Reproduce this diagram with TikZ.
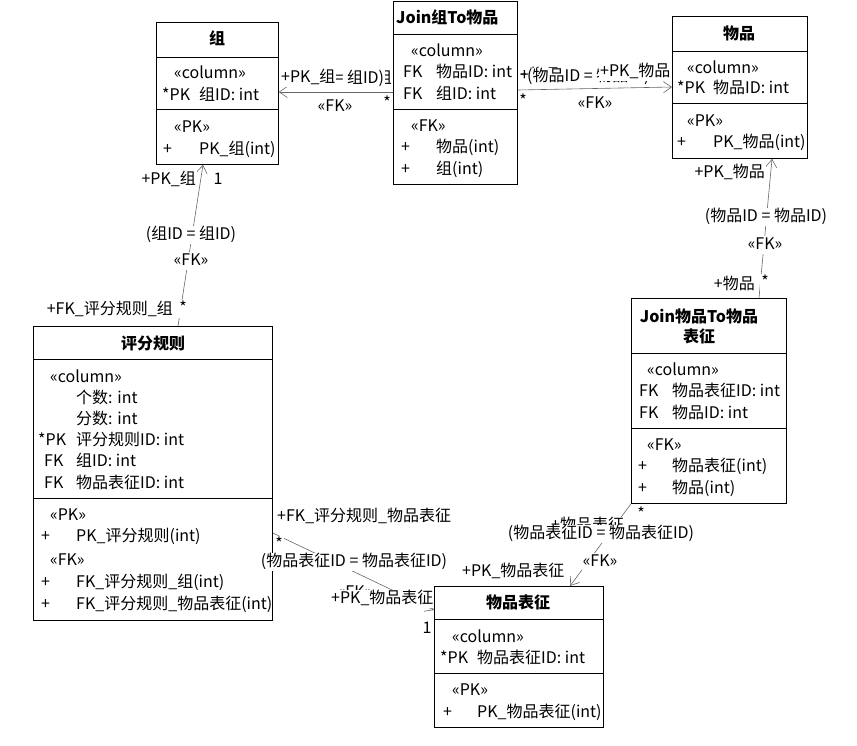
\documentclass[tikz,border=0pt]{standalone}
\usepackage{fontspec}
\setmainfont{Noto Sans CJK SC}
\usetikzlibrary{arrows.meta,calc}
\pgfdeclarelayer{bg}
\pgfsetlayers{bg,main}
\newcommand\fsz{\fontsize{16}{20}\selectfont}
\newcommand\hdiv[2]{\draw[divl] ($(#1.north west)+(0,#2)$) -- ($(#1.north east)+(0,#2)$);}
\tikzset{
  box/.style={draw=black, fill=white, line width=0.8pt, anchor=north west, inner sep=0pt},
  divl/.style={draw=black, line width=0.8pt},
  tx/.style={anchor=west, inner sep=0pt, font=\fsz, text height=12pt, text depth=4pt},
  ttl/.style={anchor=center, inner sep=0pt, font=\fsz\bfseries, text height=12pt, text depth=4pt},
  ttlw/.style={anchor=west, inner sep=0pt, font=\fsz\bfseries, text height=12pt, text depth=4pt},
  lab/.style={fill=white, inner sep=1pt, font=\fsz, text height=12pt, text depth=4pt},
  conn/.style={draw=black!60, line width=0.6pt},
  arr/.style={conn, -{Straight Barb[length=8pt,width=11pt,line width=0.6pt]}},
}
\begin{document}
\begin{tikzpicture}[x=1pt,y=-1pt]
\useasboundingbox (0,0) rectangle (857,745);
% ---------- boxes ----------
\node[box, minimum width=122pt, minimum height=142pt] (zu) at (156,22) {};
\node[box, minimum width=124pt, minimum height=183pt] (join) at (393,1) {};
\node[box, minimum width=135pt, minimum height=142pt] (wp) at (672,16) {};
\node[box, minimum width=239pt, minimum height=294pt] (pf) at (33,326) {};
\node[box, minimum width=155pt, minimum height=205pt] (jw) at (631,298) {};
\node[box, minimum width=169pt, minimum height=141pt] (bz) at (434,586) {};
\hdiv{zu}{35}\hdiv{zu}{87}
\hdiv{join}{33}\hdiv{join}{108}
\hdiv{wp}{35}\hdiv{wp}{87}
\hdiv{pf}{33}\hdiv{pf}{172}
\hdiv{jw}{55}\hdiv{jw}{130}
\hdiv{bz}{33}\hdiv{bz}{87}
% ---------- 组 ----------
\node[ttl] (zu-t) at (217,40) {组};
\node[tx] (zu-c) at (174,74) {«column»};
\node[tx] (zu-a1) at (162,96) {*PK};
\node[tx] (zu-a1n) at (199,96) {组ID: int};
\node[tx] (zu-p) at (174,128) {«PK»};
\node[tx] (zu-o1) at (163,150) {+};
\node[tx] (zu-o1n) at (199,150) {PK\_组(int)};
% ---------- Join组To物品 ----------
\node[ttlw] (jn-t) at (396,19) {Join组To物品};
\node[tx] (jn-c) at (411,52) {«column»};
\node[tx] (jn-a1) at (403,73) {FK};
\node[tx] (jn-a1n) at (436,73) {物品ID: int};
\node[tx] (jn-a2) at (403,95) {FK};
\node[tx] (jn-a2n) at (436,95) {组ID: int};
\node[tx] (jn-f) at (411,127) {«FK»};
\node[tx] (jn-o1) at (401,148) {+};
\node[tx] (jn-o1n) at (436,148) {物品(int)};
\node[tx] (jn-o2) at (401,170) {+};
\node[tx] (jn-o2n) at (436,170) {组(int)};
% ---------- 物品 ----------
\node[ttl] (wp-t) at (739,35) {物品};
\node[tx] (wp-c) at (687,69) {«column»};
\node[tx] (wp-a1) at (677,89) {*PK};
\node[tx] (wp-a1n) at (713,89) {物品ID: int};
\node[tx] (wp-p) at (687,122) {«PK»};
\node[tx] (wp-o1) at (677,143) {+};
\node[tx] (wp-o1n) at (713,143) {PK\_物品(int)};
% ---------- 评分规则 ----------
\node[ttl] (pf-t) at (153,345) {评分规则};
\node[tx] (pf-c) at (50,378) {«column»};
\node[tx] (pf-a1) at (76,399) {个数: int};
\node[tx] (pf-a2) at (76,420) {分数: int};
\node[tx] (pf-a3) at (38,441) {*PK};
\node[tx] (pf-a3n) at (76,441) {评分规则ID: int};
\node[tx] (pf-a4) at (44,462) {FK};
\node[tx] (pf-a4n) at (76,462) {组ID: int};
\node[tx] (pf-a5) at (44,484) {FK};
\node[tx] (pf-a5n) at (76,484) {物品表征ID: int};
\node[tx] (pf-p) at (50,516) {«PK»};
\node[tx] (pf-o1) at (41,537) {+};
\node[tx] (pf-o1n) at (76,537) {PK\_评分规则(int)};
\node[tx] (pf-f) at (50,561) {«FK»};
\node[tx] (pf-o2) at (41,583) {+};
\node[tx] (pf-o2n) at (76,583) {FK\_评分规则\_组(int)};
\node[tx] (pf-o3) at (41,605) {+};
\node[tx] (pf-o3n) at (76,605) {FK\_评分规则\_物品表征(int)};
% ---------- Join物品To物品表征 ----------
\node[ttl] (jw-t1) at (699,318) {Join物品To物品};
\node[ttl] (jw-t2) at (699,338) {表征};
\node[tx] (jw-c) at (647,371) {«column»};
\node[tx] (jw-a1) at (639,392) {FK};
\node[tx] (jw-a1n) at (672,392) {物品表征ID: int};
\node[tx] (jw-a2) at (639,414) {FK};
\node[tx] (jw-a2n) at (672,414) {物品ID: int};
\node[tx] (jw-f) at (647,446) {«FK»};
\node[tx] (jw-o1) at (638,467) {+};
\node[tx] (jw-o1n) at (672,467) {物品表征(int)};
\node[tx] (jw-o2) at (638,489) {+};
\node[tx] (jw-o2n) at (672,489) {物品(int)};
% ---------- 物品表征 ----------
\node[ttl] (bz-t) at (518,604) {物品表征};
\node[tx] (bz-c) at (452,638) {«column»};
\node[tx] (bz-a1) at (440,659) {*PK};
\node[tx] (bz-a1n) at (477,659) {物品表征ID: int};
\node[tx] (bz-p) at (452,691) {«PK»};
\node[tx] (bz-o1) at (443,713) {+};
\node[tx] (bz-o1n) at (477,713) {PK\_物品表征(int)};
% ---------- connector lines (behind boxes) ----------
\begin{pgfonlayer}{bg}
\draw[arr] ($(join.north west)+(0,91)$) -- ($(zu.north east)+(0,70)$);
\draw[arr] ($(join.north east)+(0,89)$) -- ($(wp.north west)+(0,71)$);
\draw[arr] ($(pf.north west)+(145,0)$) -- ($(zu.south west)+(47,0)$);
\draw[arr] ($(jw.north west)+(128,0)$) -- ($(wp.south west)+(100,0)$);
\draw[arr] (jw.south west) -- ($(bz.north west)+(136,0)$);
\draw[arr] ($(pf.north east)+(0,207)$) -- ($(bz.north west)+(0,24)$);
\end{pgfonlayer}
% ---------- connector labels ----------
% Join -> 组
\node[lab, anchor=east] (l1r) at (393,79) {+组};
\node[lab] (l1c) at (339,79) {(组ID = 组ID)};
\node[lab, anchor=west] (l1p) at (280,78) {+PK\_组};
\node[lab] (l1f) at (335,107) {«FK»};
\node[lab] (l1s) at (387,104) {*};
% Join -> 物品
\node[lab, anchor=west] (l2r) at (519,76) {+物品};
\node[lab, anchor=west] (l2c) at (526,77) {(物品ID = 物品ID)};
\node[tx] (l2rp) at (520,76) {+};
\node[lab, anchor=west] (l2p) at (599,72) {+PK\_物品};
\node[lab] (l2f) at (595,104) {«FK»};
\node[lab] (l2s) at (523,102) {*};
% 评分规则 -> 组
\node[lab, anchor=east] (l3p) at (197,180) {+PK\_组};
\node[lab] (l3o) at (218,180) {1};
\node[lab] (l3c) at (191,235) {(组ID = 组ID)};
\node[lab] (l3f) at (191,261) {«FK»};
\node[lab, anchor=east] (l3r) at (174,310) {+FK\_评分规则\_组};
\node[lab] (l3s) at (183,309) {*};
% Join物品To物品表征 -> 物品
\node[lab, anchor=east] (l4p) at (766,173) {+PK\_物品};
\node[lab] (l4c) at (766,217) {(物品ID = 物品ID)};
\node[lab] (l4f) at (765,245) {«FK»};
\node[lab, anchor=east] (l4r) at (756,285) {+物品};
\node[lab] (l4s) at (765,283) {*};
% Join物品To物品表征 -> 物品表征
\node[lab, anchor=west] (l5r) at (550,526) {+物品表征};
\node[lab] (l5c) at (601,534) {(物品表征ID = 物品表征ID)};
\node[lab] (l5s) at (641,515) {*};
\node[lab] (l5f) at (600,562) {«FK»};
\node[lab, anchor=west] (l5p) at (461,572) {+PK\_物品表征};
% 评分规则 -> 物品表征
\node[lab, anchor=west] (l6r) at (276,517) {+FK\_评分规则\_物品表征};
\node[lab] (l6s) at (279,545) {*};
\node[lab] (l6c) at (354,562) {(物品表征ID = 物品表征ID)};
\node[lab] (l6f) at (355,593) {«FK»};
\node[lab, anchor=west] (l6p) at (330,599) {+PK\_物品表征};
\node[lab] (l6o) at (427,629) {1};
\end{tikzpicture}
\end{document}
